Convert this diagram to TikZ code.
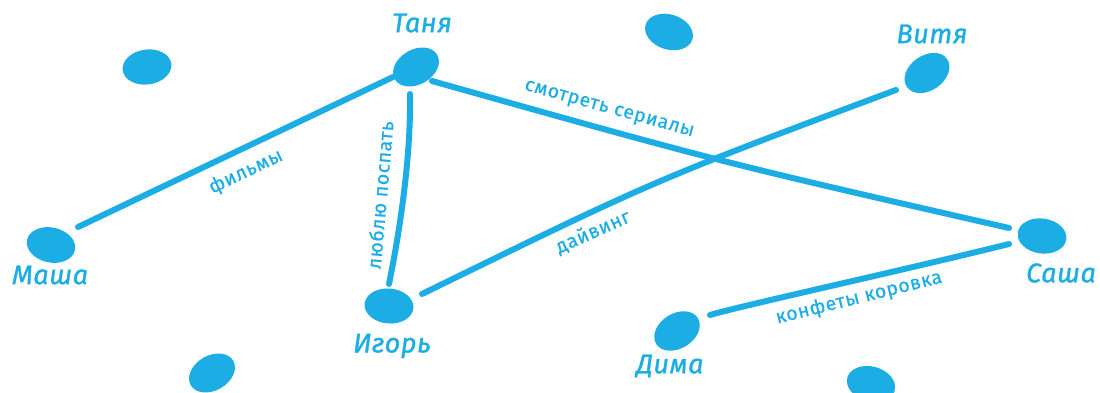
\documentclass[tikz,border=0pt]{standalone}
\usepackage{fontspec}
\setmainfont{Fira Sans}
\newfontfamily\namefont[FakeBold=1.2,LetterSpace=2]{Fira Sans}
\newfontfamily\labelfont[FakeBold=0.6,LetterSpace=3]{Fira Sans}
\usetikzlibrary{shapes.geometric}
\definecolor{sky}{RGB}{27,173,228}
\tikzset{
  blob/.style={ellipse, fill=sky, draw=none, inner sep=0pt, minimum width=49pt, minimum height=35pt},
  person/.style={text=sky, font=\namefont\fontsize{27}{30}\selectfont\itshape, inner sep=0pt},
  tie/.style={draw=sky, line width=6pt, line cap=round},
  tielabel/.style={text=sky, font=\labelfont\fontsize{19.5}{22}\selectfont, inner sep=0pt}
}
\begin{document}
\begin{tikzpicture}[x=1pt,y=-1pt]
\useasboundingbox (0,0) rectangle (1100,393);
% blobs
\node[blob, rotate=8]   (b1)    at (147,67)  {};
\node[blob, rotate=30]  (tanya) at (416,67)  {};
\node[blob, rotate=-18] (b2)    at (669,32)  {};
\node[blob, rotate=35]  (vitya) at (927,73)  {};
\node[blob, rotate=-12] (masha) at (51,245)  {};
\node[blob, rotate=-5]  (igor)  at (389,306) {};
\node[blob, rotate=-8]  (sasha) at (1042,236){};
\node[blob, rotate=32]  (dima)  at (677,331) {};
\node[blob, rotate=30]  (b3)    at (212,373) {};
\node[blob, rotate=-15] (b4)    at (871,384) {};
% names
\node[person] (ltanya) at (422,23)  {Таня};
\node[person] (lvitya) at (932,34)  {Витя};
\node[person] (lmasha) at (50,275)  {Маша};
\node[person] (ligor)  at (392,346) {Игорь};
\node[person] (lsasha) at (1061,273){Саша};
\node[person] (ldima)  at (670,366) {Дима};
% connector ends
\coordinate (tm) at (393,77);
\coordinate (mt) at (78,227);
\coordinate (ti) at (410,94);
\coordinate (it) at (389,284);
\coordinate (ts) at (432,81);
\coordinate (st) at (1009,228);
\coordinate (iv) at (422,294);
\coordinate (vi) at (896,90);
\coordinate (ds) at (710,315);
\coordinate (sd) at (1009,244);
% connectors
\draw[tie] (tm) -- (mt);
\draw[tie] (ti) .. controls (411,150) and (402,220) .. (it);
\draw[tie] (ts) .. controls (720,162) .. (st);
\draw[tie] (iv) .. controls (655,180) .. (vi);
\draw[tie] (ds) .. controls (740,306) and (900,271) .. (sd);
% labels
\node[tielabel, rotate=25.5] (lfilm)  at (246,172) {фильмы};
\node[tielabel, rotate=85]   (lsleep) at (380,195) {люблю поспать};
\node[tielabel, rotate=-15.5](lser)   at (609,110) {смотреть сериалы};
\node[tielabel, rotate=24]   (ldive)  at (593,232) {дайвинг};
\node[tielabel, rotate=14]   (lcandy) at (859,298) {конфеты коровка};
\end{tikzpicture}
\end{document}
